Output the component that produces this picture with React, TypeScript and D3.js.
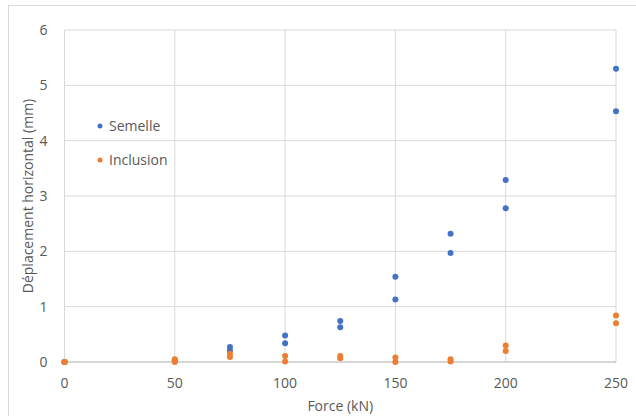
import React from 'react';
import * as d3 from 'd3';

const width = 636;
const height = 416;
const margin = {top: 30, right: 20, bottom: 54, left: 64.5};
const blue = '#4472c4';
const orange = '#ed7d31';
const grid = '#d9d9d9';
const textColor = '#595959';
const font = '"Open Sans", "Liberation Sans", sans-serif';

// two readings per load step
const forces = [0, 0, 50, 50, 75, 75, 100, 100, 125, 125, 150, 150, 175, 175, 200, 200, 250, 250];
const semelle = [0, 0, 0.03, 0.02, 0.27, 0.21, 0.48, 0.34, 0.74, 0.63, 1.54, 1.13, 2.32, 1.97, 3.29, 2.78, 5.3, 4.53];
const inclusion = [0, 0, 0.05, 0.0, 0.15, 0.09, 0.11, 0.01, 0.11, 0.07, 0.08, 0.0, 0.05, 0.01, 0.3, 0.2, 0.84, 0.7];
const xTicks = [0, 50, 100, 150, 200, 250];
const yTicks = [0, 1, 2, 3, 4, 5, 6];
const legend = [
  {name: 'Semelle', color: blue},
  {name: 'Inclusion', color: orange},
];

export default function App() {
  const x = d3.scaleLinear().domain([0, 250]).range([margin.left, width - margin.right]);
  const y = d3.scaleLinear().domain([0, 6]).range([height - margin.bottom, margin.top]);
  const fs = 14;

  return (
    <svg width={width} height={height} style={{position: 'absolute', left: 0, top: 0, background: '#fff'}}>
      <rect x={8.5} y={5.5} width={width} height={height} fill="#fff" stroke={grid} />
      {/* grid */}
      {yTicks.map(t => (
        <line key={'h' + t} x1={x(0)} x2={x(250)} y1={y(t)} y2={y(t)} stroke={grid} />
      ))}
      {xTicks.map(t => (
        <line key={'v' + t} x1={x(t)} x2={x(t)} y1={y(0)} y2={y(6)} stroke={grid} />
      ))}
      <line x1={x(0)} x2={x(250)} y1={y(0)} y2={y(0)} stroke="#bfbfbf" />
      {/* tick labels */}
      {yTicks.map(t => (
        <text key={'yl' + t} x={x(0) - 17} y={y(t)} dy="0.35em" textAnchor="end"
          fontSize={fs} fontFamily={font} fill={textColor}>{t}</text>
      ))}
      {xTicks.map(t => (
        <text key={'xl' + t} x={x(t)} y={y(0) + 21} dy="0.35em" textAnchor="middle"
          fontSize={fs} fontFamily={font} fill={textColor}>{t}</text>
      ))}
      {/* axis titles */}
      <text x={(x(0) + x(250)) / 2} y={406} dy="0.35em" textAnchor="middle"
        fontSize={fs} fontFamily={font} fill={textColor}>Force (kN)</text>
      <text transform={`translate(28, ${(y(0) + y(6)) / 2}) rotate(-90)`} dy="0.35em" textAnchor="middle"
        fontSize={fs} fontFamily={font} fill={textColor}>Déplacement horizontal (mm)</text>
      {/* points */}
      {forces.map((f, i) => (
        <circle key={'s' + i} cx={x(f)} cy={y(semelle[i])} r={3} fill={blue} />
      ))}
      {forces.map((f, i) => (
        <circle key={'i' + i} cx={x(f)} cy={y(inclusion[i])} r={3} fill={orange} />
      ))}
      {/* legend */}
      {legend.map((d, i) => (
        <g key={d.name} transform={`translate(100, ${126 + i * 34})`}>
          <circle r={2.5} fill={d.color} />
          <text x={9} dy="0.35em" fontSize={fs} fontFamily={font} fill={textColor}>{d.name}</text>
        </g>
      ))}
    </svg>
  );
}
